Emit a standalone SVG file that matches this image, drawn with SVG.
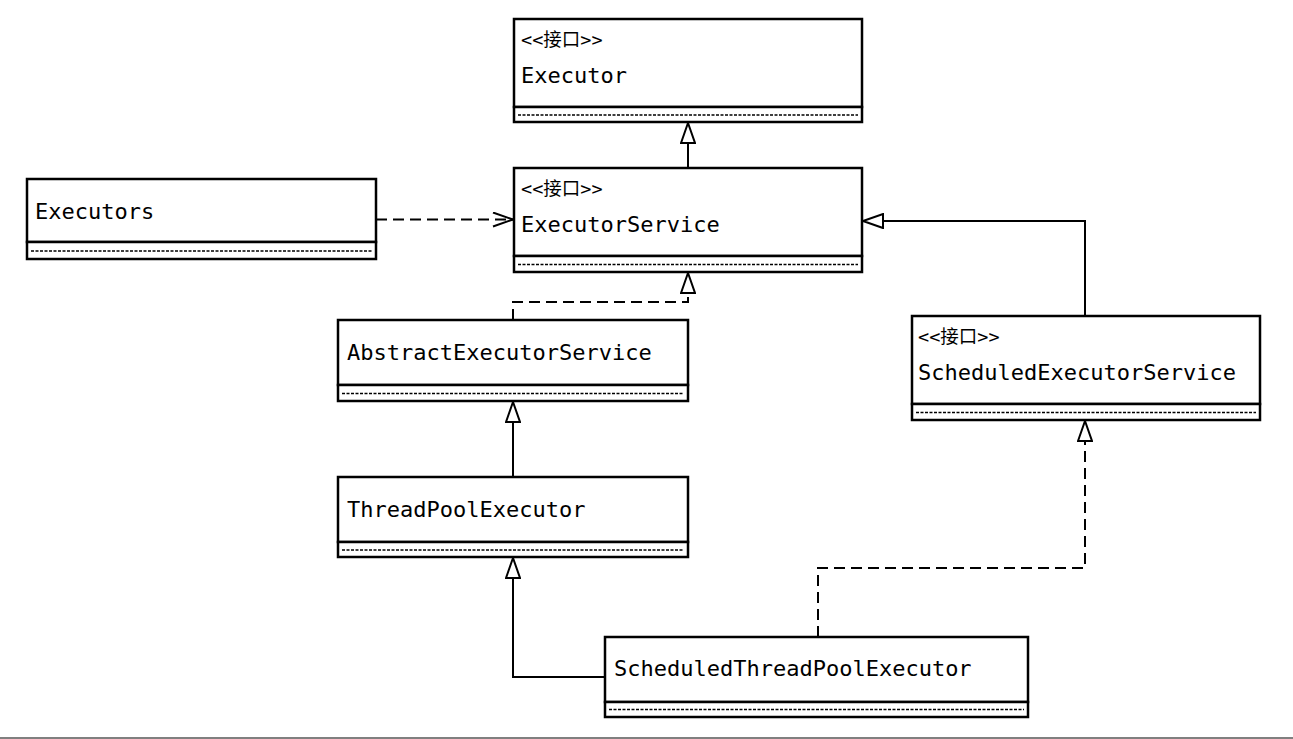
<svg xmlns="http://www.w3.org/2000/svg" width="1293" height="739" viewBox="0 0 1293 739">
<style>
.box{fill:#fff;stroke:#000;stroke-width:2.5}
.comp{fill:#fff;stroke:#000;stroke-width:2.5}
.dots{stroke:#000;stroke-width:1.6;stroke-dasharray:3 1.5;fill:none}
.name{font-family:"DejaVu Sans Mono","Liberation Mono","Noto Sans CJK SC",monospace;font-size:22px;fill:#000}
.st{font-family:"DejaVu Sans Mono","Noto Sans CJK SC",monospace;font-size:18.5px;fill:#000}
.solid{fill:none;stroke:#000;stroke-width:2}
.dash{fill:none;stroke:#000;stroke-width:2;stroke-dasharray:11 6}
</style>
<defs>
<marker id="tri" viewBox="0 0 22 16" refX="21" refY="8" markerWidth="22" markerHeight="16" markerUnits="userSpaceOnUse" orient="auto">
<path d="M1,1 L21,8 L1,15 Z" fill="#fff" stroke="#000" stroke-width="2" stroke-dasharray="none"/>
</marker>
<marker id="open" viewBox="0 0 22 16" refX="21" refY="8" markerWidth="22" markerHeight="16" markerUnits="userSpaceOnUse" orient="auto">
<path d="M1,1 L21,8 L1,15" fill="none" stroke="#000" stroke-width="2" stroke-dasharray="none"/>
</marker>
</defs>
<rect width="1293" height="739" fill="#fff"/>
<g id="connectors">
<path class="solid" d="M688,168 L688,123" marker-end="url(#tri)"/>
<path class="dash" d="M376,219.5 L513,219.5" marker-end="url(#open)"/>
<path class="dash" d="M513,320 L513,302 L688,302 L688,273" marker-end="url(#tri)"/>
<path class="solid" d="M1085,316 L1085,221 L863,221" marker-end="url(#tri)"/>
<path class="solid" d="M513,477 L513,402" marker-end="url(#tri)"/>
<path class="solid" d="M605,677 L513,677 L513,558" marker-end="url(#tri)"/>
<path class="dash" d="M818,637 L818,568 L1085,568 L1085,421" marker-end="url(#tri)"/>
</g>
<g id="Executor">
<rect class="box" x="514" y="19" width="348" height="88"/>
<rect class="comp" x="514" y="107" width="348" height="15"/>
<line class="dots" x1="518" y1="115" x2="858" y2="115"/>
<text class="st" x="521" y="46">&lt;&lt;接口&gt;&gt;</text>
<text class="name" x="521" y="83">Executor</text>
</g>
<g id="ExecutorService">
<rect class="box" x="514" y="168" width="348" height="88"/>
<rect class="comp" x="514" y="256" width="348" height="16"/>
<line class="dots" x1="518" y1="264.5" x2="858" y2="264.5"/>
<text class="st" x="521" y="195">&lt;&lt;接口&gt;&gt;</text>
<text class="name" x="521" y="232">ExecutorService</text>
</g>
<g id="Executors">
<rect class="box" x="27" y="179" width="349" height="63"/>
<rect class="comp" x="27" y="242" width="349" height="17"/>
<line class="dots" x1="31" y1="251" x2="372" y2="251"/>
<text class="name" x="35" y="219">Executors</text>
</g>
<g id="AbstractExecutorService">
<rect class="box" x="338" y="320" width="350" height="65"/>
<rect class="comp" x="338" y="385" width="350" height="16"/>
<line class="dots" x1="342" y1="393.5" x2="684" y2="393.5"/>
<text class="name" x="347" y="360">AbstractExecutorService</text>
</g>
<g id="ScheduledExecutorService">
<rect class="box" x="912" y="316" width="348" height="88"/>
<rect class="comp" x="912" y="404" width="348" height="16"/>
<line class="dots" x1="916" y1="412.5" x2="1256" y2="412.5"/>
<text class="st" x="918" y="343">&lt;&lt;接口&gt;&gt;</text>
<text class="name" x="918" y="380">ScheduledExecutorService</text>
</g>
<g id="ThreadPoolExecutor">
<rect class="box" x="338" y="477" width="350" height="65"/>
<rect class="comp" x="338" y="542" width="350" height="15"/>
<line class="dots" x1="342" y1="550" x2="684" y2="550"/>
<text class="name" x="347" y="517">ThreadPoolExecutor</text>
</g>
<g id="ScheduledThreadPoolExecutor">
<rect class="box" x="605" y="637" width="423" height="65"/>
<rect class="comp" x="605" y="702" width="423" height="15"/>
<line class="dots" x1="609" y1="709.5" x2="1024" y2="709.5"/>
<text class="name" x="614" y="676">ScheduledThreadPoolExecutor</text>
</g>
<line x1="0" y1="738" x2="1293" y2="738" stroke="#808080" stroke-width="2"/>
</svg>
